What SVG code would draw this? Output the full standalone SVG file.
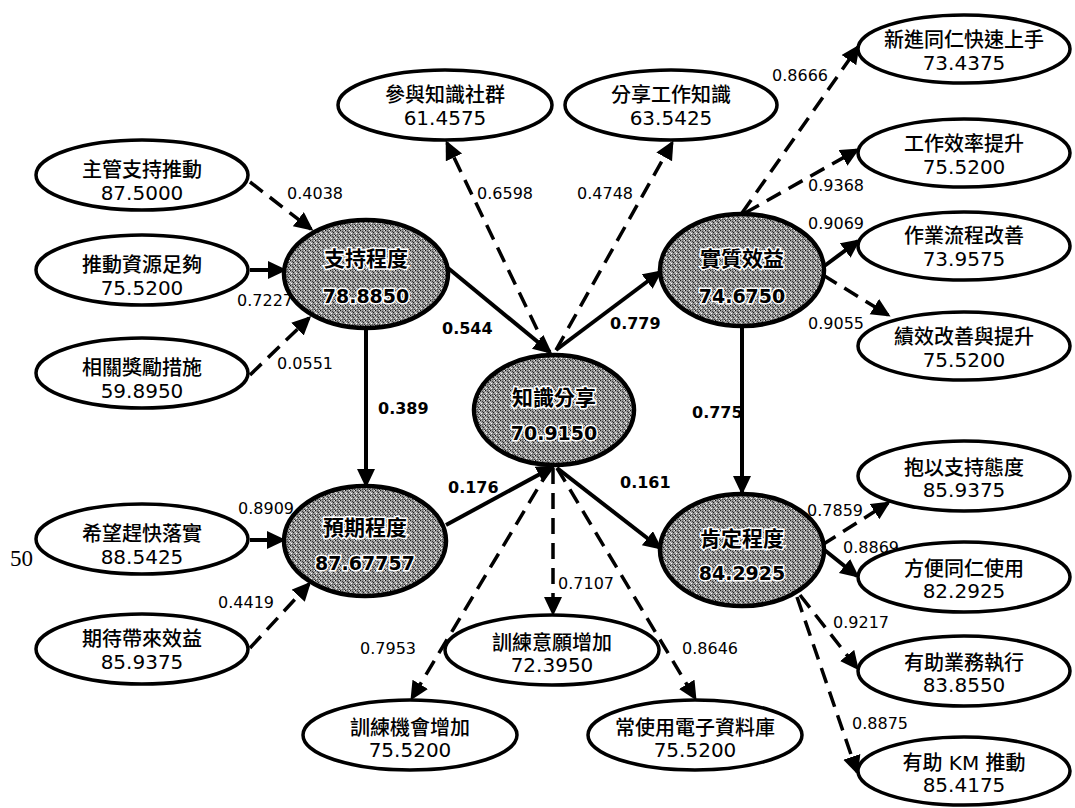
<svg xmlns="http://www.w3.org/2000/svg" width="1075" height="808" viewBox="0 0 1075 808">
<defs>
<style>
.p{fill:#fff;stroke:#000;stroke-width:3.5}
.c{fill:url(#spk);stroke:#000;stroke-width:4.5}
.t{font-family:"DejaVu Sans","Noto Sans CJK TC",sans-serif;font-size:20px;fill:#000;text-anchor:middle}
.h{font-weight:500}
.ct{font-family:"DejaVu Sans","Noto Sans CJK TC",sans-serif;font-weight:bold;fill:#000;stroke:#fff;stroke-width:3;paint-order:stroke;text-anchor:middle}
.l{font-family:"DejaVu Sans",sans-serif;font-size:16px;fill:#000}
.lb{font-family:"DejaVu Sans",sans-serif;font-size:16px;font-weight:bold;fill:#000}
.s{fill:none;stroke:#000;stroke-width:4;marker-end:url(#ah)}
.d{fill:none;stroke:#000;stroke-width:3.5;stroke-dasharray:16 9;marker-end:url(#ah)}
</style>
<pattern id="spk" width="5" height="5" patternUnits="userSpaceOnUse">
<rect width="5" height="5" fill="#959595"/>
<rect x="0" y="0" width="1" height="1" fill="#111"/>
<rect x="3" y="2" width="1" height="1" fill="#222"/>
<rect x="1" y="3" width="1" height="1" fill="#fff"/>
<rect x="4" y="0" width="1" height="1" fill="#eee"/>
<rect x="2" y="1" width="1" height="1" fill="#444"/>
<rect x="4" y="4" width="1" height="1" fill="#333"/>
<rect x="0" y="2" width="1" height="1" fill="#ddd"/>
<rect x="2" y="4" width="1" height="1" fill="#555"/>
</pattern>
<marker id="ah" markerUnits="userSpaceOnUse" markerWidth="22" markerHeight="20" refX="16" refY="9" orient="auto">
<path d="M0,0 L19,9 L0,18 z" fill="#000"/>
</marker>
</defs>
<rect width="1075" height="808" fill="#fff"/>

<g id="connectors">
<line class="d" x1="250" y1="182" x2="311" y2="229"/>
<line class="s" x1="250" y1="270" x2="284" y2="270"/>
<line class="d" x1="250" y1="375" x2="309" y2="318"/>
<line class="s" x1="366" y1="330" x2="366" y2="485"/>
<line class="s" x1="250" y1="540" x2="283" y2="540"/>
<line class="d" x1="250" y1="648" x2="309" y2="584"/>
<line class="s" x1="448" y1="268" x2="550" y2="352"/>
<line class="d" x1="548" y1="352" x2="447" y2="143"/>
<line class="d" x1="556" y1="350" x2="672" y2="143"/>
<line class="s" x1="556" y1="350" x2="660" y2="272"/>
<line class="d" x1="742" y1="213" x2="858" y2="47"/>
<line class="d" x1="745" y1="213" x2="857" y2="150"/>
<line class="s" x1="823" y1="267" x2="858" y2="241"/>
<line class="d" x1="823" y1="275" x2="888" y2="315"/>
<line class="s" x1="742" y1="327" x2="742" y2="492"/>
<line class="s" x1="446" y1="525" x2="553" y2="467"/>
<line class="s" x1="557" y1="468" x2="660" y2="548"/>
<line class="d" x1="553" y1="468" x2="553" y2="613"/>
<line class="d" x1="550" y1="468" x2="412" y2="698"/>
<line class="d" x1="557" y1="468" x2="695" y2="698"/>
<line class="d" x1="822" y1="545" x2="888" y2="503"/>
<line class="s" x1="822" y1="548" x2="857" y2="576"/>
<line class="d" x1="800" y1="595" x2="857" y2="668"/>
<line class="d" x1="797" y1="597" x2="857" y2="772"/>
<text class="l" x="287" y="199">0.4038</text>
<text class="l" x="237" y="306">0.7227</text>
<text class="l" x="277" y="369">0.0551</text>
<text class="lb" x="378" y="414">0.389</text>
<text class="l" x="238" y="514">0.8909</text>
<text class="l" x="218" y="608">0.4419</text>
<text class="lb" x="442" y="334">0.544</text>
<text class="l" x="477" y="199">0.6598</text>
<text class="l" x="577" y="199">0.4748</text>
<text class="lb" x="610" y="329">0.779</text>
<text class="l" x="772" y="81">0.8666</text>
<text class="l" x="808" y="191">0.9368</text>
<text class="l" x="808" y="229">0.9069</text>
<text class="l" x="808" y="329">0.9055</text>
<text class="lb" x="692" y="418">0.775</text>
<text class="lb" x="448" y="493">0.176</text>
<text class="lb" x="620" y="488">0.161</text>
<text class="l" x="558" y="589">0.7107</text>
<text class="l" x="360" y="654">0.7953</text>
<text class="l" x="682" y="654">0.8646</text>
<text class="l" x="807" y="516">0.7859</text>
<text class="l" x="843" y="553">0.8869</text>
<text class="l" x="833" y="628">0.9217</text>
<text class="l" x="852" y="729">0.8875</text>
</g>

<g id="n-zhuguan"><ellipse class="p" cx="142" cy="175" rx="106" ry="35"/><text class="t h" x="142" y="177">主管支持推動</text><text class="t" x="142" y="200">87.5000</text></g>
<g id="n-tuidong"><ellipse class="p" cx="142" cy="270" rx="106" ry="35"/><text class="t h" x="142" y="272">推動資源足夠</text><text class="t" x="142" y="295">75.5200</text></g>
<g id="n-xiangguan"><ellipse class="p" cx="142" cy="373" rx="106" ry="35"/><text class="t h" x="142" y="375">相關獎勵措施</text><text class="t" x="142" y="398">59.8950</text></g>
<g id="n-xiwang"><ellipse class="p" cx="142" cy="539" rx="106" ry="35"/><text class="t h" x="142" y="541">希望趕快落實</text><text class="t" x="142" y="564">88.5425</text></g>
<g id="n-qidai"><ellipse class="p" cx="142" cy="649" rx="106" ry="35"/><text class="t h" x="142" y="646">期待帶來效益</text><text class="t" x="142" y="669">85.9375</text></g>
<text id="n-50" x="10" y="566" font-family="Liberation Serif,serif" font-size="23">50</text>

<g id="n-canyu"><ellipse class="p" cx="445" cy="105" rx="107" ry="35"/><text class="t h" x="445" y="102">參與知識社群</text><text class="t" x="445" y="125">61.4575</text></g>
<g id="n-fenxiang"><ellipse class="p" cx="671" cy="105" rx="106" ry="35"/><text class="t h" x="671" y="102">分享工作知識</text><text class="t" x="671" y="125">63.5425</text></g>

<g id="n-xinjin"><ellipse class="p" cx="964" cy="49" rx="106" ry="34"/><text class="t h" x="964" y="47">新進同仁快速上手</text><text class="t" x="964" y="70">73.4375</text></g>
<g id="n-gongzuo"><ellipse class="p" cx="964" cy="153" rx="106" ry="34"/><text class="t h" x="964" y="151">工作效率提升</text><text class="t" x="964" y="174">75.5200</text></g>
<g id="n-zuoye"><ellipse class="p" cx="964" cy="246" rx="106" ry="34"/><text class="t h" x="964" y="243">作業流程改善</text><text class="t" x="964" y="266">73.9575</text></g>
<g id="n-jixiao"><ellipse class="p" cx="964" cy="346" rx="106" ry="34"/><text class="t h" x="964" y="344">績效改善與提升</text><text class="t" x="964" y="367">75.5200</text></g>

<g id="n-baoyi"><ellipse class="p" cx="964" cy="476" rx="106" ry="35"/><text class="t h" x="964" y="475">抱以支持態度</text><text class="t" x="964" y="497">85.9375</text></g>
<g id="n-fangbian"><ellipse class="p" cx="964" cy="577" rx="106" ry="35"/><text class="t h" x="964" y="576">方便同仁使用</text><text class="t" x="964" y="598">82.2925</text></g>
<g id="n-youzhu1"><ellipse class="p" cx="964" cy="671" rx="106" ry="35"/><text class="t h" x="964" y="670">有助業務執行</text><text class="t" x="964" y="692">83.8550</text></g>
<g id="n-youzhu2"><ellipse class="p" cx="964" cy="771" rx="106" ry="34"/><text class="t h" x="964" y="770">有助 KM 推動</text><text class="t" x="964" y="792">85.4175</text></g>

<g id="n-xunlian1"><ellipse class="p" cx="552" cy="650" rx="107" ry="35"/><text class="t h" x="552" y="650">訓練意願增加</text><text class="t" x="552" y="672">72.3950</text></g>
<g id="n-xunlian2"><ellipse class="p" cx="410" cy="735" rx="107" ry="35"/><text class="t h" x="410" y="735">訓練機會增加</text><text class="t" x="410" y="757">75.5200</text></g>
<g id="n-changshi"><ellipse class="p" cx="695" cy="735" rx="107" ry="35"/><text class="t h" x="695" y="735">常使用電子資料庫</text><text class="t" x="695" y="757">75.5200</text></g>

<g id="n-zhichi"><ellipse class="c" cx="366" cy="274" rx="82" ry="54"/><text class="ct" x="366" y="266" font-size="21">支持程度</text><text class="ct" x="366" y="303" font-size="19">78.8850</text></g>
<g id="n-shizhi"><ellipse class="c" cx="742" cy="270" rx="82" ry="56"/><text class="ct" x="742" y="266" font-size="21">實質效益</text><text class="ct" x="742" y="303" font-size="19">74.6750</text></g>
<g id="n-zhishi"><ellipse class="c" cx="554" cy="410" rx="80" ry="55"/><text class="ct" x="554" y="405" font-size="21">知識分享</text><text class="ct" x="554" y="440" font-size="19">70.9150</text></g>
<g id="n-yuqi"><ellipse class="c" cx="365" cy="541" rx="81" ry="55"/><text class="ct" x="365" y="535" font-size="21">預期程度</text><text class="ct" x="365" y="570" font-size="19">87.67757</text></g>
<g id="n-kending"><ellipse class="c" cx="742" cy="550" rx="82" ry="56"/><text class="ct" x="742" y="546" font-size="21">肯定程度</text><text class="ct" x="742" y="580" font-size="19">84.2925</text></g>
</svg>
